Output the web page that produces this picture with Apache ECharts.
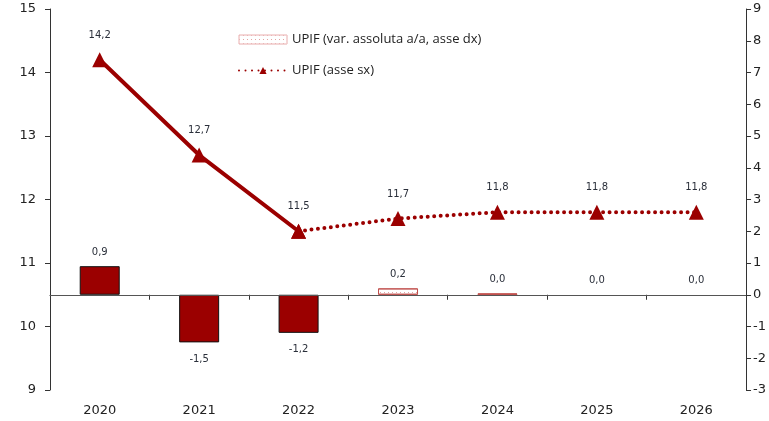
<!DOCTYPE html>
<html>
<head>
<meta charset="utf-8">
<script src="https://cdn.jsdelivr.net/npm/echarts@6/dist/echarts.min.js"></script>
<style>
html, body { margin: 0; padding: 0; background: #fff; }
#chart { width: 769px; height: 421px; }
</style>
</head>
<body>
<div id="chart"></div>
<script>
const years = ['2020', '2021', '2022', '2023', '2024', '2025', '2026'];
const upifLevel = [14.2, 12.7, 11.5, 11.7, 11.8, 11.8, 11.8];
const upifChange = [0.9, -1.5, -1.2, 0.2, 0.04, 0.0, 0.0];
const firstForecast = 3;
const leftTicks = { min: 9, max: 15, step: 1 };
const rightTicks = { min: -3, max: 9, step: 1 };

const darkRed = '#9b0000';
const textFont = 'DejaVu Sans';
const fmt = (v) => v.toFixed(1).replace('.', ',');
const tickFmt = (v) => String(v).replace('\u2212', '-');

const dotDecal = {
	symbol: 'rect',
	symbolSize: 1,
	color: '#e3a3a3',
	dashArrayX: [1, 3],
	dashArrayY: [1, 3],
	rotation: 0
};

const barData = upifChange.map((v, i) => {
	const forecast = i >= firstForecast;
	return {
		value: v,
		itemStyle: forecast ? {
			color: '#fff',
			borderColor: '#c0504d',
			borderWidth: v === 0 ? 0 : 1,
			decal: dotDecal
		} : {
			color: darkRed,
			borderColor: '#111',
			borderWidth: 1
		},
		label: v < 0 ? { position: 'bottom', distance: 12 } : { position: 'top', distance: 9 }
	};
});

const solidLine = upifLevel.map((v, i) => (i < firstForecast ? v : '-'));
const dottedLine = upifLevel.map((v, i) => {
	if (i < firstForecast - 1) return '-';
	if (i === firstForecast - 1) return { value: v, label: { show: false } };
	return v;
});

const lineLabel = {
	show: true,
	position: 'top',
	distance: 12,
	fontFamily: textFont,
	fontSize: 10,
	color: '#2a2f3a',
	formatter: (p) => fmt(p.value)
};

const chart = echarts.init(document.getElementById('chart'));
chart.setOption({
	animation: false,
	grid: { left: 50, right: 21, top: 9, bottom: 31 },
	legend: {
		left: 233,
		top: 28,
		orient: 'vertical',
		itemGap: 18,
		itemWidth: 48,
		itemHeight: 9,
		textStyle: { fontFamily: 'Open Sans', fontSize: 13, color: '#222' },
		data: [
			{
				name: 'UPIF (var. assoluta a/a, asse dx)',
				icon: 'rect',
				itemStyle: { color: '#fff', borderColor: '#f0c8c8', borderWidth: 1, decal: dotDecal }
			},
			{ name: 'UPIF (asse sx)' }
		]
	},
	xAxis: {
		type: 'category',
		data: years,
		axisLine: { lineStyle: { color: '#333', width: 1 } },
		axisTick: { show: true, length: 5, lineStyle: { color: '#333' } },
		axisLabel: { fontFamily: textFont, fontSize: 13, color: '#222', margin: 14 }
	},
	yAxis: [
		{
			type: 'value',
			min: leftTicks.min,
			max: leftTicks.max,
			interval: leftTicks.step,
			position: 'left',
			splitLine: { show: false },
			axisLine: { show: true, lineStyle: { color: '#333' } },
			axisTick: { show: true, length: 5, lineStyle: { color: '#333' } },
			axisLabel: { fontFamily: textFont, fontSize: 13, color: '#222', margin: 14, formatter: tickFmt }
		},
		{
			type: 'value',
			min: rightTicks.min,
			max: rightTicks.max,
			interval: rightTicks.step,
			position: 'right',
			splitLine: { show: false },
			axisLine: { show: true, lineStyle: { color: '#333' } },
			axisTick: { show: true, length: 5, lineStyle: { color: '#333' } },
			axisLabel: { fontFamily: textFont, fontSize: 13, color: '#222', margin: 7, formatter: tickFmt }
		}
	],
	series: [
		{
			name: 'UPIF (var. assoluta a/a, asse dx)',
			type: 'bar',
			yAxisIndex: 1,
			barWidth: 40,
			data: barData,
			itemStyle: { color: darkRed },
			label: {
				show: true,
				fontFamily: textFont,
				fontSize: 10,
				color: '#2a2f3a',
				formatter: (p) => fmt(p.value)
			},
			markLine: {
				silent: true,
				symbol: 'none',
				label: { show: false },
				lineStyle: { color: '#555', width: 1, type: 'solid' },
				data: [{ yAxis: 0 }]
			},
			z: 2
		},
		{
			name: 'UPIF storico',
			type: 'line',
			yAxisIndex: 0,
			data: solidLine,
			symbol: 'triangle',
			symbolSize: 15,
			itemStyle: { color: darkRed },
			lineStyle: { color: darkRed, width: 4, type: 'solid' },
			label: lineLabel,
			z: 5
		},
		{
			name: 'UPIF (asse sx)',
			type: 'line',
			yAxisIndex: 0,
			data: dottedLine,
			symbol: 'triangle',
			symbolSize: 15,
			itemStyle: { color: darkRed },
			lineStyle: { color: darkRed, width: 4, type: [0, 6.5], cap: 'round' },
			label: lineLabel,
			z: 5
		}
	]
});
</script>
</body>
</html>
